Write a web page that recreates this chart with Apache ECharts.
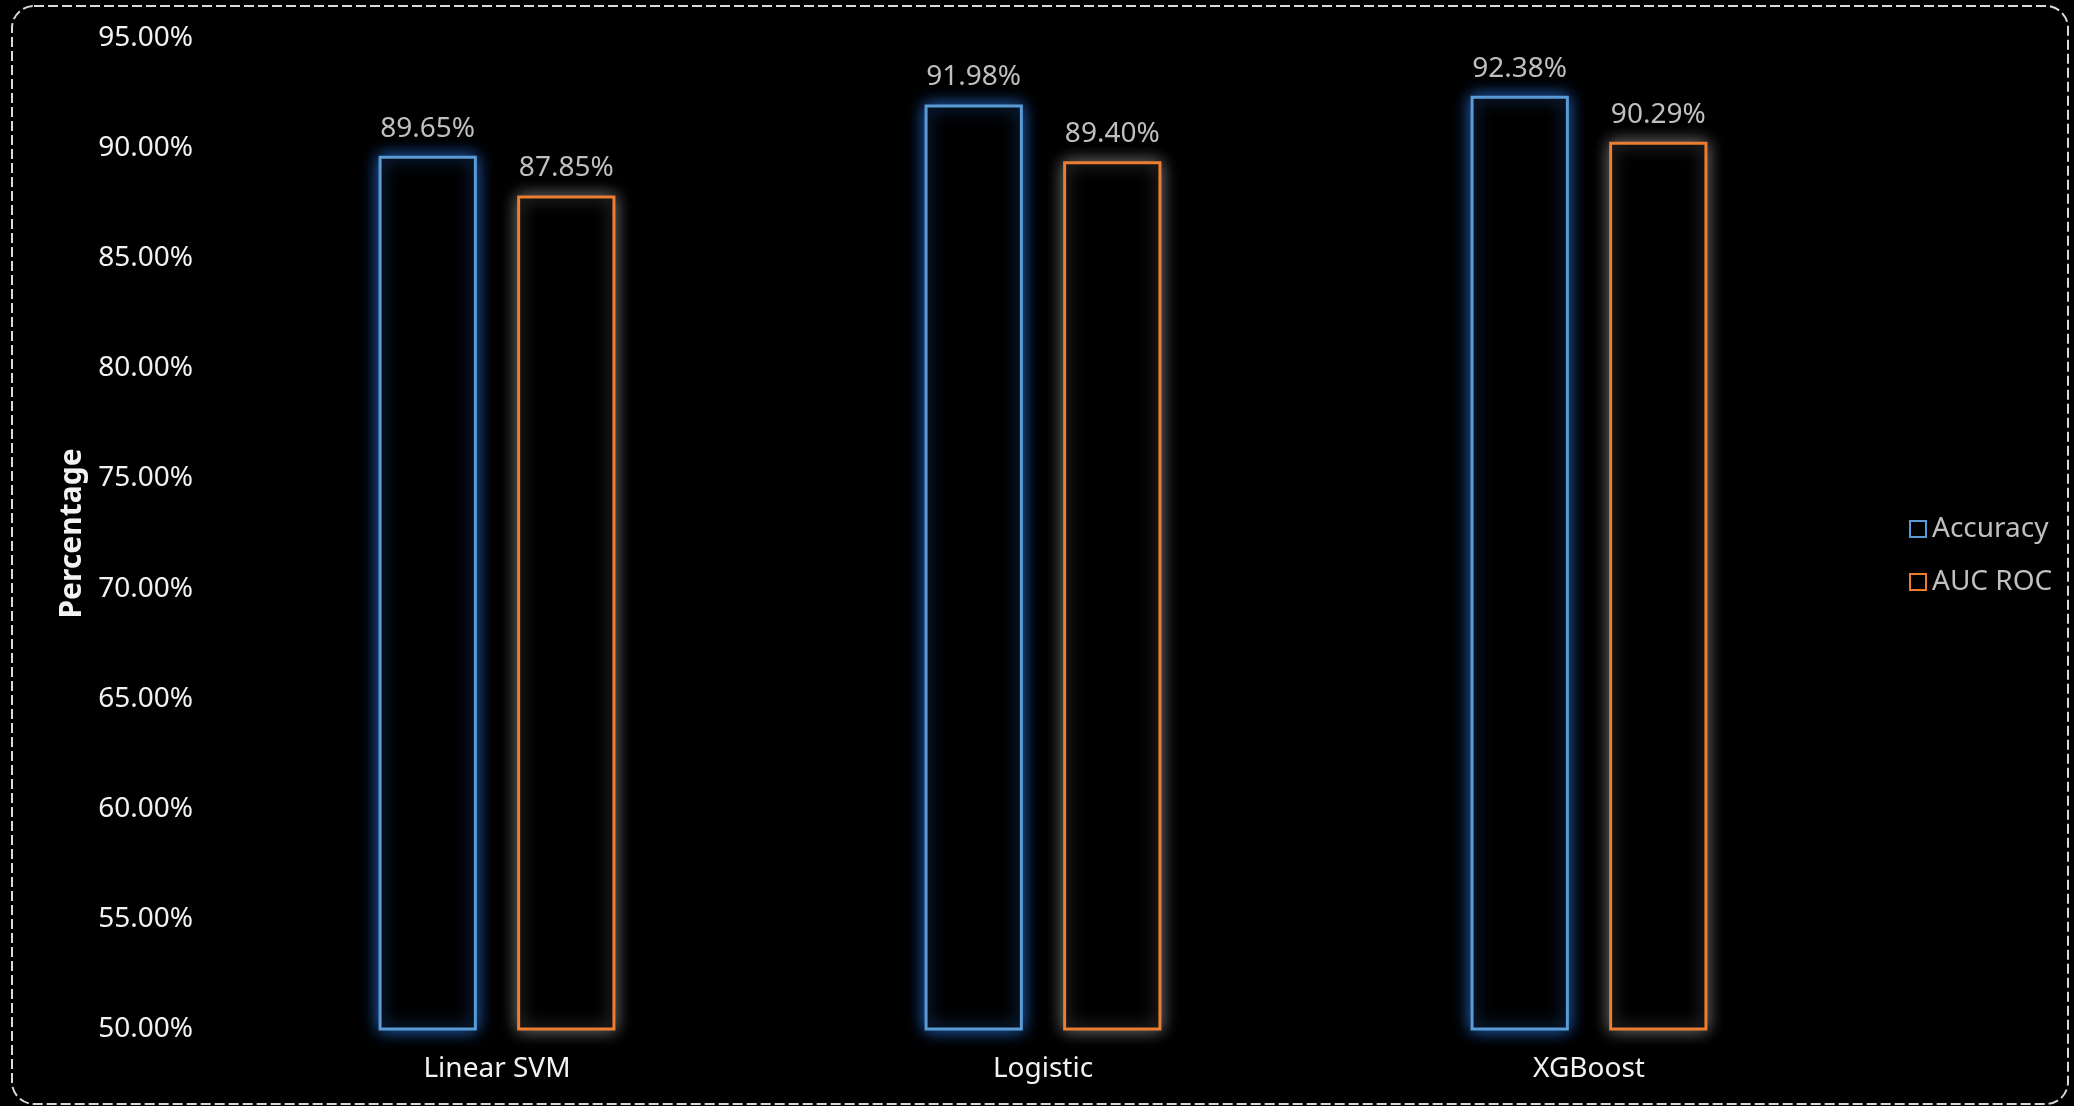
<!DOCTYPE html>
<html>
<head>
<meta charset="utf-8">
<title>Model performance</title>
<script src="https://cdn.jsdelivr.net/npm/echarts@6/dist/echarts.min.js"></script>
<style>
  html, body { margin: 0; padding: 0; background: #000; }
  #chart { width: 2074px; height: 1106px; }
</style>
</head>
<body>
<div id="chart"></div>
<script>
// Model names on the category axis
const models = ['Linear SVM', 'Logistic', 'XGBoost'];
// Scores in percent
const accuracy = [89.65, 91.98, 92.38];
const aucRoc = [87.85, 89.40, 90.29];
const seriesNames = ['Accuracy', 'AUC ROC'];

const FONT = '"Noto Sans", "Open Sans", sans-serif';
const BLUE = '#5b9bd5';
const ORANGE = '#ed7d31';

const chart = echarts.init(document.getElementById('chart'), null, { renderer: 'canvas' });

function barSeries(name, data, edge, glow) {
  return {
    name: name,
    type: 'bar',
    data: data,
    barWidth: '18%',
    barGap: '41%',
    itemStyle: {
      color: '#000',
      borderColor: edge,
      borderWidth: 3,
      shadowBlur: 16,
      shadowColor: glow
    },
    emphasis: { disabled: true },
    label: {
      show: true,
      position: 'top',
      distance: 13,
      color: '#bfbfbf',
      fontFamily: FONT,
      fontSize: 28,
      formatter: p => p.value.toFixed(2) + '%'
    }
  };
}

chart.setOption({
  backgroundColor: '#000',
  animation: false,
  grid: { left: 224, right: 212, top: 38, bottom: 77 },
  legend: {
    orient: 'vertical',
    left: 1904,
    top: 510,
    itemWidth: 16,
    itemHeight: 16,
    itemGap: 25,
    textStyle: { color: '#bfbfbf', fontFamily: FONT, fontSize: 28, padding: [0, 0, 0, 1] },
    data: [
      { name: seriesNames[0], icon: 'rect', itemStyle: { color: '#000', borderColor: BLUE, borderWidth: 2, shadowBlur: 0 } },
      { name: seriesNames[1], icon: 'rect', itemStyle: { color: '#000', borderColor: ORANGE, borderWidth: 2, shadowBlur: 0 } }
    ]
  },
  xAxis: {
    type: 'category',
    data: models,
    axisLine: { show: false },
    axisTick: { show: false },
    axisLabel: { color: '#f2f2f2', fontFamily: FONT, fontSize: 28, margin: 26 }
  },
  yAxis: {
    type: 'value',
    min: 50,
    max: 95,
    interval: 5,
    name: 'Percentage',
    nameLocation: 'middle',
    nameGap: 136,
    nameTextStyle: { color: '#f2f2f2', fontFamily: FONT, fontSize: 30, fontWeight: 'bold' },
    axisLine: { show: false },
    axisTick: { show: false },
    splitLine: { show: false },
    axisLabel: {
      color: '#f2f2f2',
      fontFamily: FONT,
      fontSize: 28,
      margin: 31,
      formatter: v => v.toFixed(2) + '%'
    }
  },
  series: [
    barSeries(seriesNames[0], accuracy, BLUE, 'rgba(40,110,210,0.95)'),
    barSeries(seriesNames[1], aucRoc, ORANGE, 'rgba(140,140,140,0.85)')
  ],
  graphic: [{
    type: 'rect',
    silent: true,
    shape: { x: 12, y: 6, width: 2056, height: 1098, r: 22 },
    style: { fill: 'none', stroke: '#d9d9d9', lineWidth: 2, lineDash: [10, 4] }
  }]
});
</script>
</body>
</html>
